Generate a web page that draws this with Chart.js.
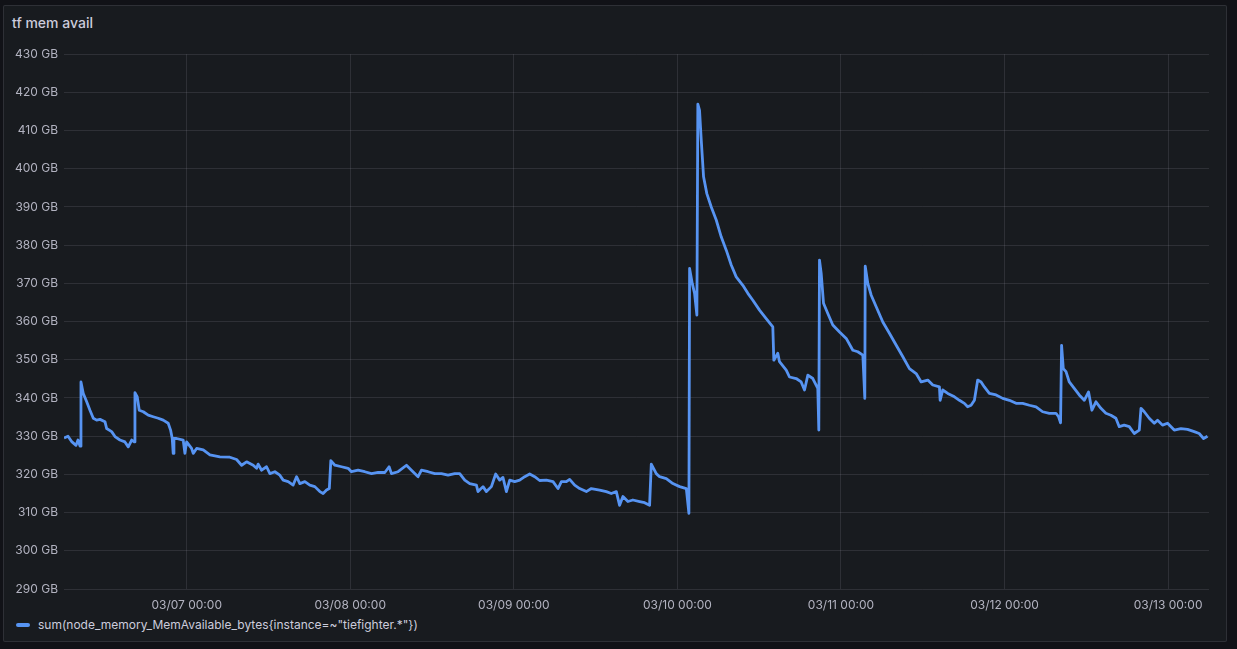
<!doctype html>
<html lang="en">
<head>
<meta charset="utf-8">
<title>tf mem avail</title>
<style>
    * {
        margin: 0;
        padding: 0;
        box-sizing: border-box;
        font-family: Inter, sans-serif;
    }

    body {
        width: 1237px;
        height: 649px;
        background: #111217;
        overflow: hidden;
        position: relative;
    }

    .panel {
        position: absolute;
        left: 3px;
        top: 5px;
        width: 1224px;
        height: 637px;
        background: #181b1f;
        border: 1px solid rgba(204, 204, 220, 0.12);
        border-radius: 2px;
    }

    .title {
        position: absolute;
        left: 8px;
        top: 8px;
        font-size: 14px;
        font-weight: 500;
        color: #ccccdc;
    }

    .chartBox {
        position: absolute;
        left: 0;
        top: 35px;
        width: 1218px;
        height: 575px;
    }

    .legend {
        position: absolute;
        left: 12px;
        top: 611px;
        display: flex;
        align-items: center;
        font-size: 12px;
        line-height: 15px;
        color: #ccccdc;
    }

    .legend .swatch {
        width: 14px;
        height: 4px;
        border-radius: 2px;
        background: #5794F2;
        margin-right: 8px;
    }
</style>
</head>
<body>
<div class="panel">
    <div class="title">tf mem avail</div>
    <div class="chartBox"><canvas id="memChart"></canvas></div>
    <div class="legend"><span class="swatch"></span><span>sum(node_memory_MemAvailable_bytes{instance=~"tiefighter.*"})</span></div>
</div>

<script src="https://cdn.jsdelivr.net/npm/chart.js/dist/chart.umd.min.js"></script>
<script>
    // hours since 03/06 00:00
    const hours = [
        6.00, 6.59, 7.17, 7.76, 8.05, 8.35, 8.49, 8.83, 9.33, 9.81,
        10.30, 10.79, 11.28, 12.01, 12.26, 12.99, 13.48, 14.21, 14.94, 15.43,
        15.93, 16.31, 16.41, 16.75, 17.04, 17.63, 18.36, 19.09, 19.83, 20.56,
        21.29, 21.64, 21.88, 22.02, 22.13, 22.52, 23.49, 23.74, 23.99, 24.72,
        24.96, 25.46, 26.43, 27.41, 28.87, 30.34, 31.32, 32.06, 32.79, 33.76,
        34.26, 34.49, 34.99, 35.72, 36.21, 36.94, 37.67, 38.16, 38.89, 39.62,
        40.12, 40.60, 41.34, 42.07, 42.80, 43.54, 44.02, 44.52, 44.93, 45.15,
        45.74, 46.72, 47.69, 48.18, 49.15, 50.13, 51.12, 52.08, 53.07, 53.70,
        54.05, 55.02, 56.25, 56.98, 57.95, 58.45, 59.42, 60.40, 61.38, 62.35,
        63.33, 64.06, 64.80, 65.53, 66.51, 66.75, 67.48, 67.98, 68.71, 69.34,
        69.93, 70.41, 70.91, 71.40, 72.13, 72.86, 73.60, 74.33, 75.06, 75.79,
        76.78, 77.75, 78.48, 78.98, 79.71, 80.19, 80.93, 81.66, 82.64, 83.37,
        84.59, 85.57, 86.30, 87.04, 87.52, 88.01, 88.74, 89.47, 90.46, 91.19,
        91.92, 92.17, 92.90, 93.39, 94.37, 95.34, 96.33, 97.31, 97.69, 97.79,
        98.18, 98.52, 98.86, 99.00, 99.25, 99.50, 99.84, 100.32, 100.97, 101.70,
        102.43, 103.17, 103.90, 104.63, 105.60, 106.34, 107.07, 108.05, 109.03, 110.00,
        110.15, 110.73, 110.98, 111.97, 112.45, 113.43, 114.16, 114.65, 115.14, 115.87,
        116.60, 116.75, 116.85, 117.10, 117.44, 118.07, 118.80, 119.79, 120.77, 121.74,
        122.47, 123.21, 123.50, 123.56, 123.94, 124.44, 125.17, 126.14, 127.13, 128.11,
        129.08, 130.05, 131.03, 131.77, 132.74, 133.47, 134.45, 134.55, 134.93, 135.67,
        136.65, 137.38, 138.11, 138.59, 139.09, 139.58, 140.06, 140.56, 141.04, 141.77,
        142.76, 143.73, 144.71, 145.69, 146.66, 147.64, 148.62, 149.59, 150.57, 151.55,
        151.93, 152.22, 152.37, 152.62, 153.02, 153.50, 154.23, 154.96, 155.70, 156.33,
        156.82, 157.41, 158.14, 158.87, 159.61, 160.34, 160.83, 161.56, 162.30, 163.03,
        163.77, 164.02, 164.50, 165.23, 165.97, 166.45, 167.18, 167.92, 168.90, 169.88,
        170.85, 171.83, 172.56, 173.20, 173.78
    ];

    // available memory, GB
    const memGB = [
        329.5, 330.0, 328.5, 327.6, 329.0, 327.4, 344.2, 341.2, 339.0, 336.8,
        334.7, 334.2, 334.4, 333.8, 332.0, 331.2, 329.9, 329.0, 328.5, 327.2,
        329.0, 328.5, 341.4, 340.3, 336.8, 336.4, 335.5, 335.1, 334.7, 334.2,
        333.4, 331.6, 329.4, 325.5, 329.4, 329.4, 329.0, 325.5, 328.5, 326.8,
        325.5, 326.8, 326.4, 325.1, 324.6, 324.5, 323.9, 322.4, 323.3, 322.4,
        321.6, 322.7, 321.1, 322.0, 320.2, 320.7, 319.8, 318.5, 318.1, 317.2,
        319.4, 317.6, 318.1, 317.2, 316.8, 315.5, 315.0, 315.9, 316.3, 323.6,
        322.4, 322.0, 321.6, 320.7, 321.1, 320.7, 320.2, 320.5, 320.5, 322.0,
        320.2, 320.7, 322.4, 321.1, 319.4, 321.1, 320.7, 320.2, 320.2, 319.8,
        320.2, 320.2, 318.5, 317.6, 317.2, 315.5, 316.8, 315.5, 316.8, 320.1,
        318.5, 319.2, 315.5, 318.5, 318.1, 318.5, 319.4, 320.1, 319.4, 318.4,
        318.5, 318.1, 316.3, 318.1, 318.1, 318.7, 317.2, 316.3, 315.5, 316.3,
        315.9, 315.5, 315.0, 315.5, 311.9, 314.2, 312.9, 313.3, 312.9, 312.6,
        311.9, 322.7, 320.2, 319.4, 318.9, 317.6, 316.8, 316.3, 309.8, 373.9,
        370.0, 367.4, 361.7, 416.9, 415.3, 407.5, 397.9, 393.5, 390.0, 386.6,
        382.2, 378.7, 374.8, 371.7, 369.5, 367.4, 365.6, 363.0, 360.8, 358.6,
        349.9, 351.7, 349.5, 347.3, 345.5, 345.1, 344.2, 342.1, 346.0, 345.1,
        342.5, 331.6, 376.1, 372.6, 364.8, 362.1, 359.1, 357.3, 355.6, 352.5,
        352.1, 351.2, 339.9, 374.5, 370.0, 366.9, 363.9, 359.9, 356.9, 353.8,
        350.8, 347.7, 346.4, 344.2, 344.7, 343.4, 342.9, 339.4, 342.1, 341.2,
        340.3, 339.4, 338.6, 337.7, 338.1, 339.4, 344.7, 344.2, 342.9, 341.2,
        340.8, 339.9, 339.4, 338.6, 338.6, 338.1, 337.7, 336.4, 336.0, 336.0,
        335.1, 333.5, 353.8, 347.7, 346.9, 344.2, 342.5, 340.8, 339.4, 341.6,
        336.8, 339.0, 337.3, 336.0, 335.5, 334.7, 332.5, 332.9, 332.5, 330.7,
        331.6, 337.3, 336.4, 334.7, 333.4, 334.2, 332.9, 333.4, 331.6, 332.0,
        331.8, 331.2, 330.7, 329.4, 330.0
    ];

    const dayTicks = [24, 48, 72, 96, 120, 144, 168];
    const dayLabels = ['03/07 00:00', '03/08 00:00', '03/09 00:00', '03/10 00:00',
        '03/11 00:00', '03/12 00:00', '03/13 00:00'];
    const yMin = 290, yMax = 430, yStep = 10;

    const gridColor = 'rgba(204, 204, 220, 0.12)';
    const tickColor = 'rgba(204, 204, 220, 0.85)';

    const data = {
        datasets: [{
            label: 'sum(node_memory_MemAvailable_bytes{instance=~"tiefighter.*"})',
            data: hours.map((h, i) => ({ x: h, y: memGB[i] })),
            borderColor: '#5794F2',
            borderWidth: 2.8,
            borderJoinStyle: 'round',
            pointRadius: 0,
            tension: 0,
            fill: false
        }]
    };

    const config = {
        type: 'line',
        data,
        options: {
            responsive: true,
            maintainAspectRatio: false,
            animation: false,
            layout: {
                padding: { top: 7, right: 13, left: 0, bottom: 0 }
            },
            plugins: {
                legend: { display: false },
                tooltip: { enabled: false }
            },
            scales: {
                x: {
                    type: 'linear',
                    min: 6,
                    max: 174,
                    afterBuildTicks: (scale) => {
                        scale.ticks = dayTicks.map(v => ({ value: v }));
                    },
                    afterFit: (scale) => { scale.height = 27; },
                    grid: { color: gridColor, drawTicks: false },
                    border: { display: false },
                    ticks: {
                        color: tickColor,
                        font: { family: 'Inter', size: 12 },
                        padding: 9,
                        maxRotation: 0,
                        autoSkip: false,
                        callback: (v) => dayLabels[dayTicks.indexOf(v)]
                    }
                },
                y: {
                    min: yMin,
                    max: yMax,
                    afterFit: (scale) => { scale.width = 60; },
                    grid: { color: gridColor, drawTicks: false },
                    border: { display: false },
                    ticks: {
                        stepSize: yStep,
                        color: tickColor,
                        font: { family: 'Inter', size: 12 },
                        padding: 6,
                        callback: (v) => v + ' GB'
                    }
                }
            }
        }
    };

    const memChart = new Chart(document.getElementById('memChart'), config);
</script>
</body>
</html>
